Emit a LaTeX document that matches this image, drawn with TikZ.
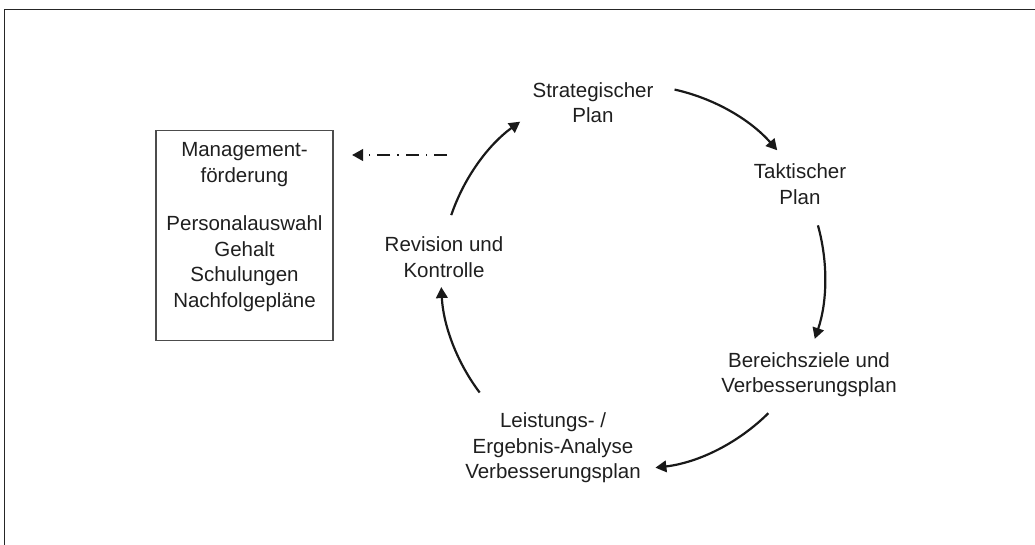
\documentclass[tikz,border=0pt]{standalone}
\usepackage{fontspec}
\setmainfont{Liberation Sans}
\usetikzlibrary{arrows.meta,calc}

\begin{document}
\begin{tikzpicture}[x=1pt,y=1pt,
  txt/.style={text=black!88, align=center, inner sep=0pt,
    font=\fontsize{20.5pt}{25.5pt}\selectfont},
  framebox/.style={draw=black!70, line width=1.1pt, minimum width=177pt,
    minimum height=209.5pt, inner sep=0pt},
  cyc/.style={draw=black!90, line width=2.2pt,
    -{Triangle[length=11pt,width=11.5pt]}},
  feedback/.style={draw=black!90, line width=2.2pt,
    dash pattern=on 13pt off 7pt on 1.5pt off 7pt,
    -{Triangle[length=11pt,width=11.5pt]}},
  pageline/.style={draw=black!85, line width=1.4pt}]

% page size
\useasboundingbox (0,0) rectangle (1035,-544);

% open page frame (top and left edges only)
\coordinate (frameTR) at (1040,-9.7);
\coordinate (frameTL) at (4.5,-9.7);
\coordinate (frameBL) at (4.5,-550);
\draw[pageline] (frameTR) -- (frameTL) -- (frameBL);

% management box
\node[framebox] (mgmt) at (244.5,-235.3) {};
\node[txt] (mgmttext) at (244.5,-227) {Management-\\förderung\\[23pt]Personalauswahl\\Gehalt\\Schulungen\\Nachfolgepläne};

% cycle stages
\node[txt] (strat) at (593,-102.5) {Strategischer\\Plan};
\node[txt] (takt)  at (800,-184)   {Taktischer\\Plan};
\node[txt] (ziel)  at (809,-374.5) {Bereichsziele und\\Verbesserungsplan};
\node[txt] (leist) at (553,-448)   {Leistungs- /\\Ergebnis-Analyse\\Verbesserungsplan};
\node[txt] (rev)   at (444,-257)   {Revision und\\Kontrolle};

% cycle arcs around a common centre
\coordinate (cc) at (633,-277);
\def\rr{192pt}
\coordinate (s1) at ($(cc)+(77.5:\rr)$);
\coordinate (s2) at ($(cc)+(15.6:\rr)$);
\coordinate (s3) at ($(cc)+(-45.2:\rr)$);
\coordinate (s4) at ($(cc)+(217:\rr)$);
\coordinate (s5) at ($(cc)+(161.2:\rr)$);

\draw[cyc] (s1) arc[start angle=77.5, end angle=41.3, radius=\rr];
\draw[cyc] (s2) arc[start angle=15.6, end angle=-18.8, radius=\rr];
\draw[cyc] (s3) arc[start angle=-45.2, end angle=-83.3, radius=\rr];
\draw[cyc] (s4) arc[start angle=217, end angle=183, radius=\rr];
\draw[cyc] (s5) arc[start angle=161.2, end angle=126, radius=\rr];

% feedback to management box
\coordinate (fbstart) at (447,-155);
\coordinate (fbend) at (352,-155);
\draw[feedback] (fbstart) -- (fbend);

\end{tikzpicture}
\end{document}
